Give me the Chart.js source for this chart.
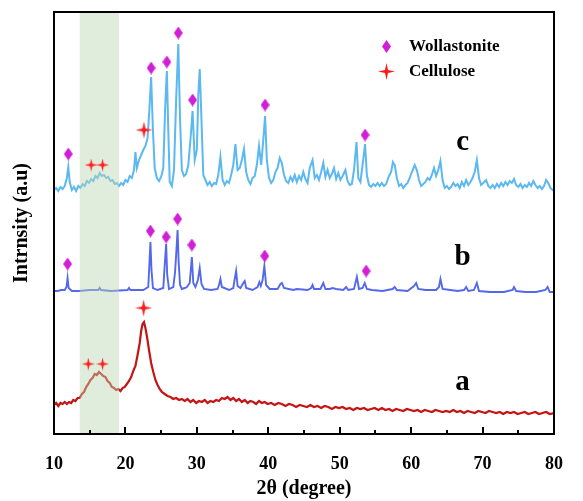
<!DOCTYPE html>
<html>
<head>
<meta charset="utf-8">
<script src="https://cdn.jsdelivr.net/npm/chart.js@4.4.1/dist/chart.umd.min.js"></script>
<style>
  html, body { margin: 0; padding: 0; background: #fff; }
</style>
</head>
<body>
<canvas id="xrd" width="583" height="501"></canvas>
<script>
// curve a (cellulose) - 2theta and intensity (a.u.)
const thetaA = [
    10.0, 10.3, 10.6, 10.9, 11.2, 11.5, 11.8, 12.1, 12.4, 12.7,
    13.0, 13.3, 13.6, 13.9, 14.2, 14.5, 14.8, 15.1, 15.4, 15.7,
    16.0, 16.3, 16.6, 16.9, 17.2, 17.5, 17.8, 18.1, 18.4, 18.7,
    19.0, 19.3, 19.6, 19.9, 20.2, 20.5, 20.8, 21.1, 21.4, 21.7,
    22.0, 22.2, 22.4, 22.6, 22.8, 23.0, 23.3, 23.6, 23.9, 24.2,
    24.5, 24.8, 25.1, 25.5, 25.9, 26.3, 26.7, 27.1, 27.5, 27.9,
    28.3, 28.7, 29.1, 29.5, 29.9, 30.3, 30.7, 31.1, 31.5, 31.9,
    32.3, 32.7, 33.1, 33.5, 33.9, 34.3, 34.7, 35.1, 35.5, 35.9,
    36.3, 36.7, 37.1, 37.5, 37.9, 38.3, 38.7, 39.1, 39.5, 39.9,
    40.4, 40.9, 41.4, 41.9, 42.4, 42.9, 43.4, 43.9, 44.4, 44.9,
    45.4, 45.9, 46.4, 46.9, 47.4, 47.9, 48.4, 48.9, 49.4, 49.9,
    50.4, 50.9, 51.4, 51.9, 52.4, 52.9, 53.4, 53.9, 54.4, 54.9,
    55.4, 55.9, 56.4, 56.9, 57.4, 57.9, 58.4, 58.9, 59.4, 59.9,
    60.4, 60.9, 61.4, 61.9, 62.4, 62.9, 63.4, 63.9, 64.4, 64.9,
    65.4, 65.9, 66.4, 66.9, 67.4, 67.9, 68.4, 68.9, 69.4, 69.9,
    70.4, 70.9, 71.4, 71.9, 72.4, 72.9, 73.4, 73.9, 74.4, 74.9,
    75.4, 75.9, 76.4, 76.9, 77.4, 77.9, 78.4, 78.9, 79.4, 80.0];
const intA = [
    29, 31, 28, 31, 30, 32, 30, 32, 31, 34,
    33, 36, 36, 40, 42, 47, 50, 54, 56, 60,
    59, 62, 60, 58, 57, 53, 51, 47, 46, 44,
    45, 43, 46, 47, 50, 53, 57, 63, 68, 79,
    91, 103, 110, 112, 106, 98, 84, 71, 62, 54,
    49, 45, 42, 40, 38, 37, 35, 36, 34, 35,
    33, 35, 32, 34, 31, 33, 32, 34, 31, 33,
    32, 34, 33, 36, 35, 37, 34, 36, 33, 35,
    32, 34, 31, 33, 32, 30, 33, 31, 32, 30,
    31, 29, 31, 30, 28, 30, 29, 27, 29, 28,
    27, 29, 27, 28, 26, 28, 27, 25, 27, 26,
    27, 25, 26, 24, 26, 25, 26, 24, 25, 26,
    24, 26, 24, 25, 23, 25, 24, 23, 25, 24,
    23, 24, 22, 24, 23, 22, 24, 23, 22, 23,
    22, 24, 22, 23, 21, 23, 22, 21, 23, 22,
    21, 23, 22, 21, 22, 20, 22, 21, 22, 20,
    21, 22, 20, 21, 22, 20, 21, 22, 20, 21];

// curve b (wollastonite)
const thetaB = [10.0, 10.5, 11.0, 11.5, 11.75, 11.9, 12.05, 12.5, 13.5, 15.0, 16.2, 16.4, 16.6, 18.0, 20.3, 20.5, 20.7, 22.5, 23.2, 23.35, 23.5, 23.65, 23.85, 24.5, 25.3, 25.5, 25.7, 25.85, 26.1, 26.7, 26.95, 27.1, 27.3, 27.45, 27.65, 27.9, 28.3, 28.6, 29.0, 29.3, 29.5, 29.8, 30.15, 30.4, 30.65, 31.0, 32.0, 32.9, 33.1, 33.3, 33.5, 34.5, 35.1, 35.3, 35.5, 35.7, 36.1, 36.5, 36.7, 36.9, 37.8, 38.5, 38.75, 38.95, 39.2, 39.45, 39.7, 40.2, 41.3, 41.7, 41.9, 42.2, 43.5, 44.0, 45.5, 46.0, 46.2, 46.4, 47.3, 47.7, 48.0, 48.6, 49.0, 49.5, 50.5, 50.9, 51.2, 52.0, 52.4, 52.7, 53.2, 53.5, 53.8, 54.5, 56.0, 57.4, 57.7, 58.0, 59.5, 60.4, 60.7, 61.0, 62.0, 63.5, 63.9, 64.1, 64.4, 65.5, 66.5, 67.4, 67.7, 68.0, 68.8, 69.2, 69.5, 71.0, 73.0, 74.2, 74.4, 74.7, 76.0, 77.5, 78.8, 79.1, 79.4, 80.0];
const intB = [143, 143, 144, 144, 147, 156, 146, 143, 143, 144, 144, 146, 144, 143, 144, 146, 144, 144, 147, 169, 192, 164, 146, 144, 146, 169, 190, 159, 145, 147, 162, 179, 204, 172, 149, 145, 146, 147, 151, 177, 151, 147, 154, 166, 150, 145, 144, 145, 149, 155, 147, 144, 146, 155, 163, 148, 146, 151, 153, 146, 144, 147, 152, 148, 154, 168, 149, 145, 145, 150, 151, 146, 144, 145, 144, 146, 149, 145, 145, 151, 145, 145, 146, 145, 144, 147, 144, 145, 157, 145, 146, 151, 145, 144, 143, 145, 147, 144, 143, 148, 151, 145, 144, 144, 147, 155, 145, 144, 143, 144, 147, 143, 144, 151, 143, 142, 142, 144, 147, 143, 142, 142, 144, 147, 142, 142];

// curve c (composite)
const thetaC = [10.0, 10.3, 10.6, 10.9, 11.2, 11.5, 11.8, 12.0, 12.2, 12.5, 12.8, 13.1, 13.4, 13.7, 14.0, 14.3, 14.6, 14.9, 15.2, 15.5, 15.8, 16.1, 16.4, 16.7, 17.0, 17.3, 17.6, 17.9, 18.2, 18.5, 18.8, 19.1, 19.4, 19.7, 20.0, 20.3, 20.6, 20.9, 21.2, 21.4, 21.6, 21.9, 22.2, 22.5, 22.8, 23.1, 23.35, 23.6, 23.85, 24.1, 24.4, 24.7, 25.0, 25.3, 25.55, 25.8, 26.0, 26.2, 26.5, 26.8, 27.1, 27.4, 27.65, 27.9, 28.2, 28.5, 28.8, 29.1, 29.4, 29.7, 30.0, 30.2, 30.4, 30.65, 30.9, 31.2, 31.5, 31.8, 32.1, 32.4, 32.7, 33.0, 33.3, 33.6, 33.9, 34.2, 34.5, 34.8, 35.1, 35.4, 35.7, 36.0, 36.3, 36.6, 36.9, 37.2, 37.5, 37.8, 38.1, 38.4, 38.7, 39.0, 39.3, 39.55, 39.8, 40.1, 40.4, 40.7, 41.0, 41.3, 41.6, 41.9, 42.2, 42.5, 42.8, 43.1, 43.4, 43.7, 44.0, 44.3, 44.6, 44.9, 45.2, 45.5, 45.8, 46.2, 46.5, 46.8, 47.1, 47.4, 47.7, 48.0, 48.3, 48.6, 48.9, 49.2, 49.5, 49.8, 50.1, 50.4, 50.8, 51.1, 51.4, 51.7, 52.0, 52.35, 52.6, 52.9, 53.2, 53.55, 53.8, 54.1, 54.4, 54.7, 55.0, 55.3, 55.6, 55.9, 56.2, 56.5, 56.9, 57.2, 57.45, 57.7, 58.0, 58.3, 58.6, 58.9, 59.2, 59.5, 59.8, 60.1, 60.5, 60.8, 61.1, 61.4, 61.7, 62.0, 62.3, 62.6, 62.9, 63.2, 63.5, 63.8, 64.1, 64.4, 64.7, 65.0, 65.3, 65.6, 65.9, 66.2, 66.5, 66.8, 67.1, 67.4, 67.7, 68.0, 68.3, 68.6, 68.9, 69.2, 69.5, 69.8, 70.1, 70.5, 70.8, 71.1, 71.4, 71.7, 72.0, 72.3, 72.6, 72.9, 73.2, 73.5, 73.8, 74.1, 74.4, 74.7, 75.0, 75.3, 75.6, 75.9, 76.2, 76.5, 76.8, 77.1, 77.4, 77.7, 78.0, 78.3, 78.6, 78.9, 79.2, 79.5, 79.8, 80.0];
const intC = [244, 246, 243, 247, 245, 248, 256, 267, 252, 244, 247, 243, 248, 246, 250, 248, 253, 251, 255, 253, 258, 256, 261, 258, 259, 256, 257, 253, 254, 250, 251, 248, 251, 249, 254, 252, 258, 256, 264, 282, 266, 274, 279, 284, 288, 296, 324, 357, 304, 266, 256, 253, 257, 266, 324, 363, 304, 252, 248, 264, 334, 390, 314, 264, 258, 260, 269, 294, 323, 274, 284, 339, 365, 314, 259, 254, 249, 252, 248, 251, 250, 259, 277, 254, 249, 253, 251, 259, 269, 290, 264, 266, 274, 285, 262, 254, 250, 256, 258, 269, 288, 269, 294, 318, 274, 256, 251, 254, 262, 266, 276, 271, 259, 253, 251, 257, 253, 259, 252, 258, 254, 262, 255, 251, 266, 274, 256, 259, 254, 262, 271, 257, 264, 256, 260, 266, 255, 261, 254, 258, 264, 253, 249, 250, 264, 292, 256, 252, 269, 290, 259, 249, 247, 250, 248, 251, 248, 251, 248, 250, 258, 262, 272, 269, 256, 248, 250, 246, 249, 251, 256, 262, 269, 264, 254, 248, 250, 252, 256, 254, 259, 266, 258, 264, 273, 254, 246, 248, 245, 247, 251, 248, 250, 246, 252, 248, 254, 249, 252, 256, 262, 274, 256, 249, 251, 254, 248, 246, 249, 246, 250, 247, 251, 248, 252, 249, 253, 251, 255, 249, 247, 250, 246, 249, 247, 251, 248, 253, 249, 246, 248, 245, 248, 254, 251, 246, 244, 243];

// peak markers
const wollX = [12.0, 23.6, 25.8, 27.4, 29.4, 39.55, 53.55, 11.9, 23.5, 25.7, 27.3, 29.3, 39.5, 53.7];
const wollY = [280, 366, 372, 401, 334, 329, 299, 170, 203, 197, 215, 189, 178, 163];
const celluSmallX = [15.2, 16.8, 14.8, 16.8];
const celluSmallY = [269, 269, 70, 70];
const celluBigX = [22.6, 22.55];
const celluBigY = [304, 126];

const curveLabels = ['a', 'b', 'c'];
const curveLabelY = [44, 169, 284];

const SERIF = '"Liberation Serif", "Times New Roman", serif';

function pts(xs, ys) {
    return xs.map((x, i) => ({ x: x, y: ys[i] }));
}

// marker glyphs
function diamond(w, h) {
    const c = document.createElement('canvas');
    c.width = w; c.height = h;
    const g = c.getContext('2d');
    g.fillStyle = '#d11fd6';
    g.beginPath();
    g.moveTo(w / 2, 0); g.lineTo(w, h / 2); g.lineTo(w / 2, h); g.lineTo(0, h / 2);
    g.closePath(); g.fill();
    return c;
}
function star(s) {
    const c = document.createElement('canvas');
    c.width = s; c.height = s;
    const g = c.getContext('2d');
    const m = s / 2, t = s * 0.09;
    g.fillStyle = '#ff1a1a';
    g.beginPath();
    g.moveTo(m, 0); g.lineTo(m + t, m - t); g.lineTo(s, m); g.lineTo(m + t, m + t);
    g.lineTo(m, s); g.lineTo(m - t, m + t); g.lineTo(0, m); g.lineTo(m - t, m - t);
    g.closePath(); g.fill();
    return c;
}
const diaImg = diamond(9, 13);
const starSmall = star(13);
const starBig = star(17);

// green band, frame, ticks, labels, legend
const decor = {
    id: 'decor',
    afterDatasetDraw(chart, args) {
        if (args.index !== 0) return;
        const { ctx, chartArea } = chart;
        const x = chart.scales.x;
        ctx.save();
        ctx.fillStyle = 'rgba(188, 214, 178, 0.45)';
        const x0 = x.getPixelForValue(13.6), x1 = x.getPixelForValue(19.1);
        ctx.fillRect(x0, chartArea.top, x1 - x0, chartArea.bottom - chartArea.top);
        ctx.restore();
    },
    afterDraw(chart) {
        const { ctx, chartArea } = chart;
        const x = chart.scales.x, y = chart.scales.y;
        ctx.save();
        ctx.strokeStyle = '#000';
        ctx.lineWidth = 2;
        ctx.strokeRect(chartArea.left, chartArea.top, chartArea.right - chartArea.left, chartArea.bottom - chartArea.top);
        ctx.beginPath();
        for (let v = 15; v < 80; v += 5) {
            const px = Math.round(x.getPixelForValue(v));
            const len = v % 10 === 0 ? 7 : 4;
            ctx.moveTo(px, chartArea.bottom);
            ctx.lineTo(px, chartArea.bottom - len);
        }
        ctx.stroke();

        ctx.fillStyle = '#000';
        ctx.font = 'bold 29px ' + SERIF;
        ctx.textAlign = 'center';
        ctx.textBaseline = 'alphabetic';
        curveLabels.forEach((t, i) => {
            ctx.fillText(t, x.getPixelForValue(67.2), y.getPixelForValue(curveLabelY[i]));
        });

        // legend
        ctx.drawImage(diaImg, 382, 40);
        ctx.drawImage(starBig, 378, 63);
        ctx.font = 'bold 17px ' + SERIF;
        ctx.textAlign = 'left';
        ctx.textBaseline = 'middle';
        ctx.fillText('Wollastonite', 409, 47);
        ctx.fillText('Cellulose', 409, 72);
        ctx.restore();
    }
};

const lineDs = (data, color, w) => ({
    type: 'line',
    data: data,
    borderColor: color,
    borderWidth: w,
    pointRadius: 0,
    tension: 0,
    fill: false,
    order: 2
});
const markDs = (data, img) => ({
    type: 'scatter',
    data: data,
    pointStyle: img,
    pointRadius: 6,
    order: 1
});

new Chart(document.getElementById('xrd'), {
    type: 'scatter',
    data: {
        datasets: [
            lineDs(pts(thetaC, intC), '#5cb8f0', 2),
            lineDs(pts(thetaB, intB), '#5468ec', 1.9),
            lineDs(pts(thetaA, intA), '#c41414', 2.2),
            markDs(pts(wollX, wollY), diaImg),
            markDs(pts(celluSmallX, celluSmallY), starSmall),
            markDs(pts(celluBigX, celluBigY), starBig)
        ]
    },
    options: {
        responsive: false,
        animation: false,
        layout: { padding: { left: 0, right: 22, top: 12, bottom: 0 } },
        plugins: { legend: { display: false }, tooltip: { enabled: false } },
        scales: {
            x: {
                type: 'linear',
                min: 10, max: 80,
                grid: { display: false, drawTicks: false },
                border: { display: false },
                ticks: {
                    stepSize: 10,
                    color: '#000',
                    padding: 20,
                    font: { family: SERIF, size: 18, weight: 'bold' }
                },
                title: {
                    display: true,
                    text: '2θ (degree)',
                    color: '#000',
                    padding: { top: 0, bottom: 0 },
                    font: { family: SERIF, size: 20, weight: 'bold' }
                },
                afterFit(s) { s.height = 67; }
            },
            y: {
                min: 0, max: 422,
                grid: { display: false, drawTicks: false },
                border: { display: false },
                ticks: { display: false },
                title: {
                    display: true,
                    text: 'Intrnsity (a.u)',
                    color: '#000',
                    padding: { top: 10, bottom: 0 },
                    font: { family: SERIF, size: 20, weight: 'bold' }
                },
                afterFit(s) { s.width = 54; }
            }
        }
    },
    plugins: [decor]
});
</script>
</body>
</html>
